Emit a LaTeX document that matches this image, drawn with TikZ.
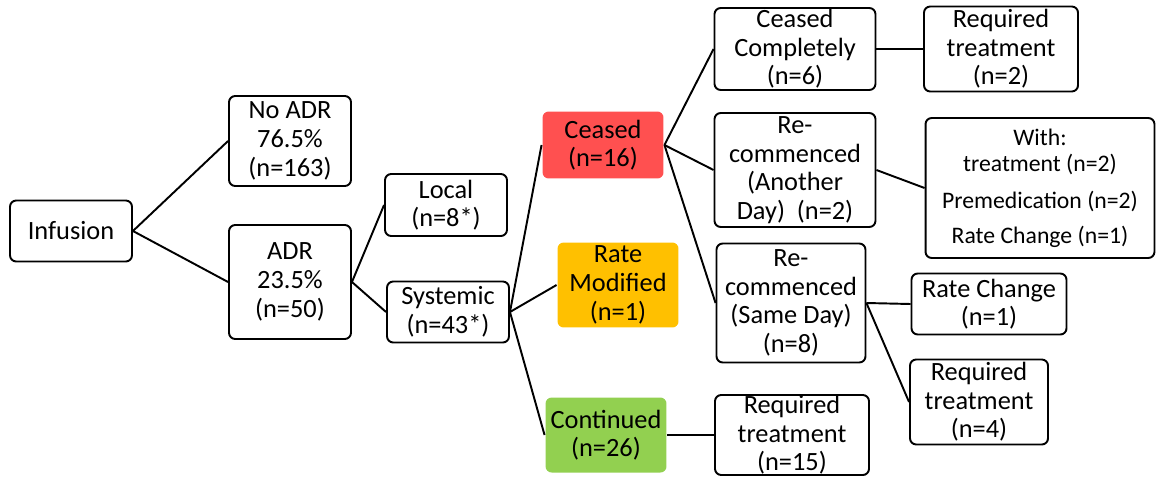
\documentclass[tikz,border=0pt]{standalone}
\usepackage{fontspec}
\setmainfont{Carlito}
\usetikzlibrary{positioning}
\definecolor{ADRRed}{HTML}{FF5050}
\definecolor{ADROrange}{HTML}{FFC000}
\definecolor{ADRGreen}{HTML}{92D050}
\tikzset{box/.style={rounded corners=3.5pt,draw=black,line width=1.1pt,fill=white,align=center,inner sep=0pt}, outcome/.style={box,draw=none}, link/.style={line width=1.1pt,draw=black}}

\begin{document}
\begin{tikzpicture}[x=0.02cm,y=-0.02cm,font=\fontsize{15pt}{16.3pt}\selectfont]
\useasboundingbox (0,0) rectangle (1159,477);
\node[box,minimum width=2.44cm,minimum height=1.22cm] (infusion) at (71,231) {Infusion};
\node[box,minimum width=2.44cm,minimum height=1.8cm] (noadr) at (290,141) {No ADR\\76.5\%\\(n=163)};\node[box,minimum width=2.44cm,minimum height=2.28cm] (adr) at (290,282) {ADR\\23.5\%\\(n=50)};
\node[box,minimum width=2.44cm,minimum height=1.24cm] (local) at (446,205) {Local\\(n=8*)};\node[box,minimum width=2.44cm,minimum height=1.22cm] (systemic) at (448,312) {Systemic\\(n=43*)};
\node[outcome,fill=ADRRed,minimum width=2.42cm,minimum height=1.34cm] (ceased) at (603,145) {Ceased\\(n=16)};\node[outcome,fill=ADROrange,minimum width=2.42cm,minimum height=1.7cm] (ratemod) at (618,285) {Rate\\Modified\\(n=1)};\node[outcome,fill=ADRGreen,minimum width=2.42cm,minimum height=1.5cm] (continued) at (606,435) {Continued\\(n=26)};
\node[box,minimum width=3.22cm,minimum height=1.64cm] (complete) at (795,49) {Ceased\\Completely\\(n=6)};\node[box,minimum width=3.08cm,minimum height=1.7cm] (treatA) at (1001,49) {Required\\treatment\\(n=2)};
\node[box,minimum width=3.22cm,minimum height=2.28cm] (another) at (795,170) {Re-\\commenced\\(Another\\Day)~~(n=2)};
\node[box,minimum width=4.58cm,minimum height=2.8cm,font=\fontsize{13.5pt}{15.3pt}\selectfont] (with) at (1040,188) {With:\\treatment (n=2)\\[5.5pt]Premedication (n=2)\\[4.5pt]Rate Change (n=1)};
\node[box,minimum width=2.98cm,minimum height=2.38cm] (sameday) at (791,303) {Re-\\commenced\\(Same Day)\\(n=8)};
\node[box,minimum width=3.1cm,minimum height=1.22cm] (ratechg) at (989,304) {Rate Change\\(n=1)};\node[box,minimum width=2.76cm,minimum height=1.7cm] (treatB) at (979,402) {Required\\treatment\\(n=4)};
\node[box,minimum width=3.08cm,minimum height=1.6cm] (treatC) at (792,435) {Required\\treatment\\(n=15)};
\draw[link] (infusion.east)--(noadr.west);\draw[link] (infusion.east)--(adr.west);\draw[link] (adr.east)--(local.west);\draw[link] (adr.east)--(systemic.west);
\draw[link] (systemic.east)--(ceased.west);\draw[link] (systemic.east)--(ratemod.west);\draw[link] (systemic.east)--(continued.west);
\draw[link] (ceased.east)--(complete.west);\draw[link] (ceased.east)--(another.west);\draw[link] (ceased.east)--(sameday.west);
\draw[link] (complete.east)--(treatA.west);\draw[link] (another.east)--(with.west);\draw[link] (sameday.east)--(ratechg.west);\draw[link] (sameday.east)--(treatB.west);\draw[link] (continued.east)--(treatC.west);
\end{tikzpicture}
\end{document}
